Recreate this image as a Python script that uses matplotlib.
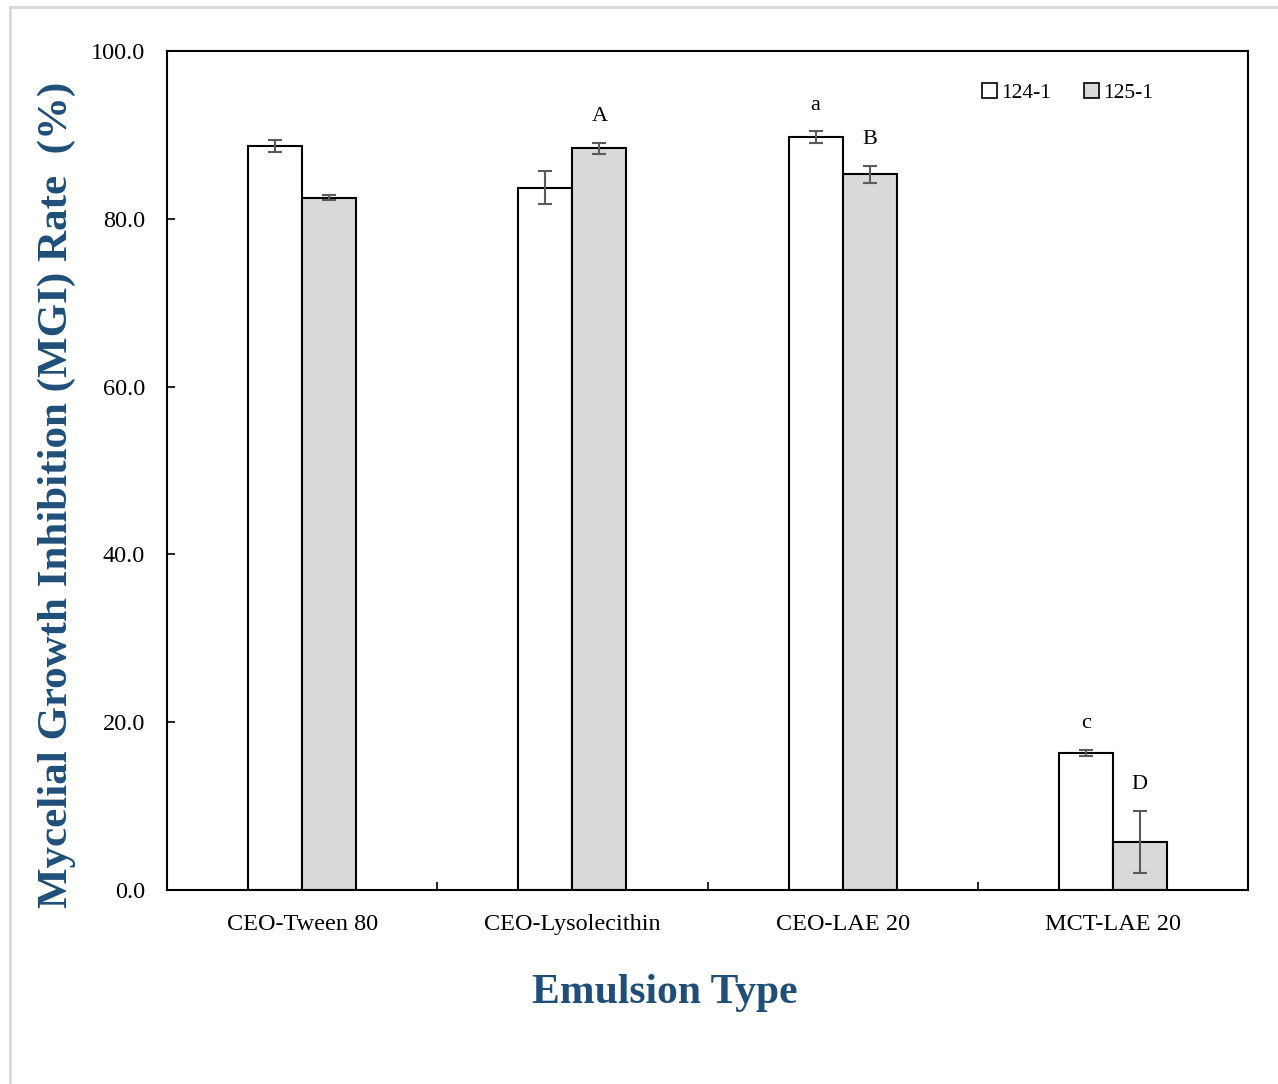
import numpy as np
import matplotlib.pyplot as plt
from matplotlib.lines import Line2D
from matplotlib.patches import Patch

plt.rcParams['font.family'] = ['Liberation Serif', 'DejaVu Serif']

emulsions = ["CEO-Tween 80", "CEO-Lysolecithin", "CEO-LAE 20", "MCT-LAE 20"]
strains = ["124-1", "125-1"]
mgi_124 = [88.7, 83.7, 89.7, 16.3]
mgi_125 = [82.5, 88.4, 85.3, 5.7]
sd_124 = [0.7, 2.0, 0.7, 0.35]
sd_125 = [0.3, 0.65, 1.0, 3.7]
sig_124 = ["", "", "a", "c"]
sig_125 = ["", "A", "B", "D"]

title_blue = "#1F4E79"
err_grey = "#5A5A5A"

fig = plt.figure(figsize=(12.78, 10.84), dpi=100)
ax = fig.add_axes([0.1307, 0.1790, 0.8458, 0.7740])

x = np.arange(len(emulsions))
w = 0.2
ax.bar(x - w / 2, mgi_124, w, color="white", edgecolor="black", linewidth=1.5,
       yerr=sd_124, error_kw=dict(ecolor=err_grey, elinewidth=1.5, capsize=5, capthick=1.5))
ax.bar(x + w / 2, mgi_125, w, color="#D9D9D9", edgecolor="black", linewidth=1.5,
       yerr=sd_125, error_kw=dict(ecolor=err_grey, elinewidth=1.5, capsize=5, capthick=1.5))

# significance letters above the error bars
for i in range(len(emulsions)):
    if sig_124[i]:
        ax.text(x[i] - w / 2, mgi_124[i] + sd_124[i] + 2.0, sig_124[i],
                ha="center", va="bottom", fontsize=16)
    if sig_125[i]:
        ax.text(x[i] + w / 2, mgi_125[i] + sd_125[i] + 2.0, sig_125[i],
                ha="center", va="bottom", fontsize=16)

ax.set_xlim(-0.5, len(emulsions) - 0.5)
ax.set_ylim(0, 100)
ax.set_yticks(np.arange(0, 101, 20))
ax.set_yticklabels([f"{v:.1f}" for v in np.arange(0, 101, 20)])
ax.set_xticks(x)
ax.set_xticklabels(emulsions)
ax.set_xticks(x[:-1] + 0.5, minor=True)
ax.tick_params(axis="x", which="major", length=0, labelsize=17.5, pad=17)
ax.tick_params(axis="x", which="minor", direction="in", length=6, width=1.2)
ax.tick_params(axis="y", direction="in", length=6, width=1.2, labelsize=17.5, pad=16)
for s in ax.spines.values():
    s.set_linewidth(1.5)

ax.set_ylabel("Mycelial Growth Inhibition (MGI) Rate  (%)", fontsize=31,
              fontweight="bold", color=title_blue)
ax.yaxis.set_label_coords(-0.084, 0.471)
ax.set_xlabel("Emulsion Type", fontsize=30, fontweight="bold", color=title_blue)
ax.xaxis.set_label_coords(0.4607, -0.100)

handles = [Patch(facecolor="white", edgecolor="black", linewidth=1.2),
           Patch(facecolor="#D9D9D9", edgecolor="black", linewidth=1.2)]
ax.legend(handles, strains, loc="upper right", ncol=2, frameon=False,
          fontsize=15.5, handlelength=0.7, handleheight=0.7, handletextpad=0.2,
          columnspacing=1.5, bbox_to_anchor=(0.93, 0.985))

# thin grey page border on top and left
fig.add_artist(Line2D([10 / 1278, 1], [1 - 7 / 1084] * 2, color="#D9D9D9", lw=2))
fig.add_artist(Line2D([10 / 1278] * 2, [0, 1 - 7 / 1084], color="#D9D9D9", lw=2))

fig.savefig("out.png", dpi=100)
